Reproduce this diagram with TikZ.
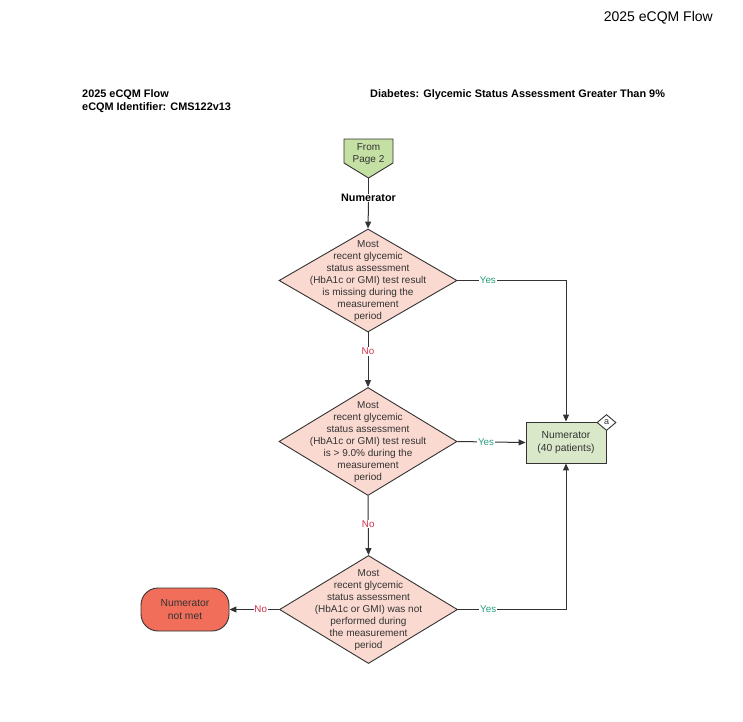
\documentclass[tikz,border=0pt]{standalone}
\usepackage{fontspec}
\setmainfont{Liberation Sans}
\usetikzlibrary{shapes.geometric,arrows.meta}
\definecolor{linec}{HTML}{333333}
\definecolor{diafill}{HTML}{FAD9D0}
\definecolor{pentfill}{HTML}{C5E0A3}
\definecolor{boxfill}{HTML}{D8E8C8}
\definecolor{notmetfill}{HTML}{F06E5A}
\definecolor{yesc}{HTML}{2A9D7F}
\definecolor{noc}{HTML}{D0304A}
\tikzset{
  dia/.style={diamond, draw=linec, fill=diafill, line width=0.9pt, inner sep=0pt, minimum width=178pt},
  dtext/.style={align=center, text=linec, font=\fontsize{10}{12}\selectfont, inner sep=0pt},
  conn/.style={draw=linec, line width=1pt},
  arr/.style={conn, -{Triangle[length=7pt,width=6pt]}},
  yeslab/.style={fill=white, inner sep=0.8pt, text=yesc, font=\fontsize{9.8}{11}\selectfont},
  nolab/.style={fill=white, inner sep=0.8pt, text=noc, font=\fontsize{9.8}{11}\selectfont},
  hdr/.style={font=\bfseries\fontsize{10.9}{13}\selectfont, anchor=west, inner sep=0pt},
}
\begin{document}
\begin{tikzpicture}[x=1pt,y=-1pt]
\useasboundingbox (0,0) rectangle (743,721);
\fill[white] (0,0) rectangle (743,721);
% titles
\node[anchor=east, inner sep=0pt, font=\fontsize{14}{16}\selectfont] (ttl) at (713,18) {2025 eCQM Flow};
\node[hdr] (h1) at (82,95) {2025 eCQM Flow};
\node[hdr] (h2) at (82,108) {eCQM Identifier: CMS122v13};
\node[hdr] (h3) at (370,95) {Diabetes: Glycemic Status Assessment Greater Than 9\%};
% off-page connector
\draw[draw=linec, fill=pentfill, line width=0.9pt] (344,139) -- (393,139) -- (393,163) -- (368.5,178) -- (344,163) -- cycle;
\coordinate (fromtip) at (368.5,178);
\node[dtext, font=\fontsize{10}{12}\selectfont] (from) at (368.5,154.5) {From\\Page 2};
\node[inner sep=0pt, font=\bfseries\fontsize{10.8}{13}\selectfont] (numlab) at (368.5,198) {Numerator};
% diamonds
\node[dia, minimum height=103pt] (d1) at (368,280.5) {};
\node[dtext] at (368,281) {Most\\recent glycemic\\status assessment\\(HbA1c or GMI) test result\\is missing during the\\measurement\\period};
\node[dia, minimum height=108pt] (d2) at (368,441.5) {};
\node[dtext] at (368,442) {Most\\recent glycemic\\status assessment\\(HbA1c or GMI) test result\\is > 9.0\% during the\\measurement\\period};
\node[dia, minimum height=108pt] (d3) at (368.5,609.5) {};
\node[dtext] at (368.5,610) {Most\\recent glycemic\\status assessment\\(HbA1c or GMI) was not\\performed during\\the measurement\\period};
% numerator box
\node[draw=linec, fill=boxfill, line width=0.9pt, minimum width=80pt, minimum height=41pt, inner sep=0pt, align=center, font=\fontsize{10.3}{12.5}\selectfont, text=linec] (num) at (566,442.5) {Numerator\\(40 patients)};
\node[diamond, draw=linec, fill=white, line width=0.9pt, inner sep=0pt, minimum width=19pt, minimum height=16pt, font=\fontsize{9}{10}\selectfont, text=linec] (tag) at (606.5,422.5) {a};
% not met
\node[draw=linec, fill=notmetfill, line width=0.9pt, rounded corners=17pt, minimum width=88pt, minimum height=43pt, inner sep=0pt, align=center, font=\fontsize{10.3}{12.5}\selectfont, text=linec] (notmet) at (185,609.5) {Numerator\\not met};
% connectors
\draw[conn] (fromtip) -- (numlab.north);
\draw[arr] (numlab.south) -- (d1.north);
\draw[arr] (d1.east) -- node[yeslab, pos=0.28] {Yes} (d1.east -| num.north) -- (num.north);
\draw[arr] (d1.south) -- node[nolab, pos=0.35] {No} (d2.north);
\draw[arr] (d2.east) -- node[yeslab, pos=0.42] {Yes} (num.west);
\draw[arr] (d2.south) -- node[nolab, pos=0.47] {No} (d3.north);
\draw[arr] (d3.east) -- node[yeslab, pos=0.28] {Yes} (d3.east -| num.south) -- (num.south);
\draw[arr] (d3.west) -- node[nolab, pos=0.37] {No} (notmet.east);
\end{tikzpicture}
\end{document}
